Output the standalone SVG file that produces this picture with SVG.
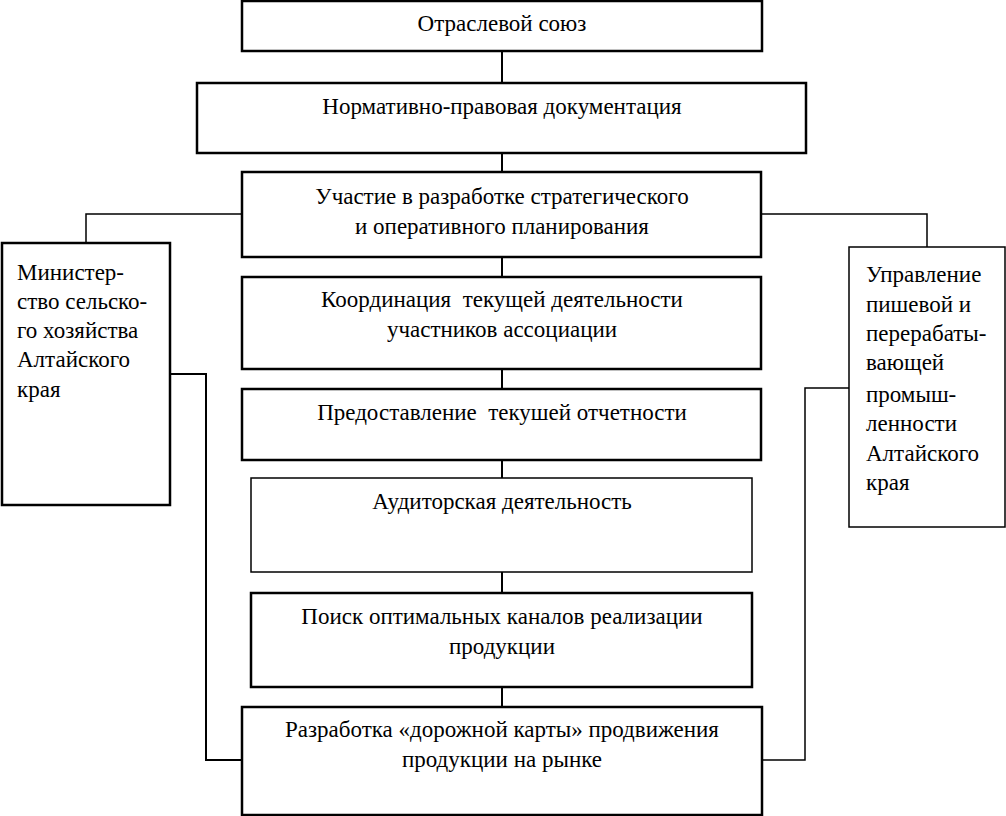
<svg xmlns="http://www.w3.org/2000/svg" width="1006" height="816" viewBox="0 0 1006 816">
<style>
.b{fill:#fff;stroke:#000;stroke-width:2.5}
.t{fill:none;stroke:#000;stroke-width:1.5}
.c{fill:none;stroke:#000;stroke-width:2}
.m{text-anchor:middle}
</style>
<rect width="1006" height="816" fill="#fff"/>
<g id="connectors">
<line class="c" x1="502" y1="51" x2="502" y2="83"/>
<line class="c" x1="502" y1="153" x2="502" y2="172"/>
<line class="c" x1="502" y1="257" x2="502" y2="277"/>
<line class="c" x1="502" y1="369" x2="502" y2="389"/>
<line class="c" x1="502" y1="460" x2="502" y2="478"/>
<line class="c" x1="502" y1="572" x2="502" y2="593"/>
<line class="c" x1="502" y1="687" x2="502" y2="707"/>
<polyline class="t" points="242,214 86,214 86,243"/>
<polyline class="t" points="762,214 927,214 927,247"/>
<polyline class="c" points="170,374 206,374 206,760 242,760"/>
<polyline class="t" points="849,388 805,388 805,760 762,760"/>
</g>
<g font-family="Liberation Serif, DejaVu Serif, serif" font-size="23" fill="#000">
<g id="n1"><rect class="b" x="242" y="1" width="520" height="50"/><text class="m" x="502" y="31">Отраслевой союз</text></g>
<g id="n2"><rect class="b" x="197" y="83" width="609" height="70"/><text class="m" x="502" y="114">Нормативно-правовая документация</text></g>
<g id="n3"><rect class="b" x="242" y="172" width="519" height="85"/><text class="m" x="502" y="204">Участие в разработке стратегического</text><text class="m" x="502" y="234">и оперативного планирования</text></g>
<g id="n4"><rect class="b" x="242" y="277" width="519" height="92"/><text class="m" x="502" y="307" xml:space="preserve">Координация  текущей деятельности</text><text class="m" x="502" y="337">участников ассоциации</text></g>
<g id="n5"><rect class="b" x="242" y="389" width="519" height="71"/><text class="m" x="502" y="420" xml:space="preserve">Предоставление  текушей отчетности</text></g>
<g id="n6"><rect class="t" x="251" y="478" width="501" height="94"/><text class="m" x="502" y="509">Аудиторская деятельность</text></g>
<g id="n7"><rect class="b" x="251" y="593" width="501" height="94"/><text class="m" x="502" y="624">Поиск оптимальных каналов реализации</text><text class="m" x="502" y="654">продукции</text></g>
<g id="n8"><rect class="b" x="242" y="707" width="520" height="108"/><text class="m" x="502" y="737">Разработка «дорожной карты» продвижения</text><text class="m" x="502" y="767">продукции на рынке</text></g>
<g id="left"><rect class="b" x="2" y="243" width="168" height="262"/>
<text x="17" y="280">Министер-</text><text x="17" y="309">ство сельско-</text><text x="17" y="338">го хозяйства</text><text x="17" y="367">Алтайского</text><text x="17" y="397">края</text></g>
<g id="right"><rect class="t" x="849" y="247" width="156" height="280"/>
<text x="866" y="282">Управление</text><text x="866" y="312">пишевой и</text><text x="866" y="341">перерабаты-</text><text x="866" y="370">вающей</text><text x="866" y="402">промыш-</text><text x="866" y="431">ленности</text><text x="866" y="461">Алтайского</text><text x="866" y="490">края</text></g>
</g>
</svg>
